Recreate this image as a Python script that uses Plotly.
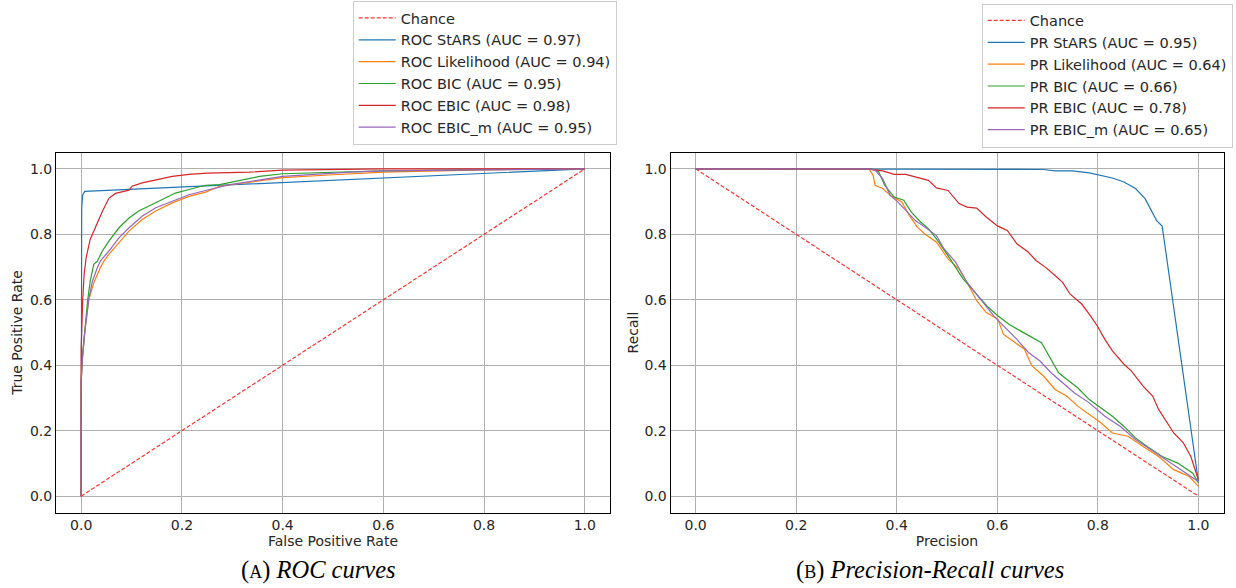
import plotly.graph_objects as go

# ---- ROC curves: (false positive rate, true positive rate) ----
chance_roc_x = [0.0, 1.0]
chance_roc_y = [0.0, 1.0]

roc_stars_fpr = [0.0, 0.0, 0.001, 0.003, 0.007, 1.0]
roc_stars_tpr = [0.0, 0.80, 0.88, 0.92, 0.931, 1.0]

roc_lik_fpr = [0.0, 0.0, 0.002, 0.007, 0.015, 0.025, 0.038, 0.045, 0.055, 0.075, 0.095, 0.121,
               0.148, 0.181, 0.214, 0.247, 0.275, 0.32, 0.40, 0.50, 0.60, 0.80, 1.0]
roc_lik_tpr = [0.0, 0.35, 0.41, 0.50, 0.60, 0.652, 0.698, 0.718, 0.739, 0.774, 0.810, 0.845,
               0.871, 0.896, 0.916, 0.929, 0.947, 0.956, 0.973, 0.982, 0.990, 0.997, 1.0]

roc_bic_fpr = [0.0, 0.0, 0.002, 0.007, 0.013, 0.018, 0.025, 0.032, 0.042, 0.055, 0.075, 0.095,
               0.114, 0.141, 0.167, 0.187, 0.214, 0.247, 0.275, 0.354, 0.40, 0.479, 0.60, 0.80, 1.0]
roc_bic_tpr = [0.0, 0.35, 0.42, 0.51, 0.60, 0.658, 0.708, 0.718, 0.749, 0.779, 0.820, 0.850,
               0.871, 0.891, 0.911, 0.926, 0.937, 0.950, 0.952, 0.977, 0.985, 0.989, 0.994, 0.998, 1.0]

roc_ebic_fpr = [0.0, 0.0, 0.003, 0.006, 0.010, 0.018, 0.028, 0.042, 0.055, 0.068, 0.095, 0.101,
                0.121, 0.154, 0.181, 0.214, 0.250, 0.334, 0.40, 0.60, 1.0]
roc_ebic_tpr = [0.0, 0.45, 0.60, 0.68, 0.73, 0.785, 0.820, 0.870, 0.910, 0.925, 0.935, 0.947,
                0.957, 0.967, 0.977, 0.983, 0.987, 0.990, 0.996, 1.0, 1.0]

roc_ebicm_fpr = [0.0, 0.0, 0.002, 0.007, 0.015, 0.022, 0.032, 0.038, 0.055, 0.075, 0.095, 0.121,
                 0.148, 0.181, 0.214, 0.247, 0.295, 0.40, 0.533, 0.60, 0.80, 1.0]
roc_ebicm_tpr = [0.0, 0.35, 0.41, 0.50, 0.60, 0.655, 0.698, 0.718, 0.749, 0.789, 0.820, 0.855,
                 0.881, 0.901, 0.921, 0.934, 0.952, 0.977, 0.990, 0.994, 0.998, 1.0]

# ---- Precision-Recall curves: (precision, recall) ----
chance_pr_x = [0.0, 1.0]
chance_pr_y = [1.0, 0.0]

pr_stars_p = [0.0, 0.35, 0.639, 0.692, 0.715, 0.75, 0.783, 0.806, 0.829, 0.852, 0.875, 0.894,
              0.906, 0.917, 0.928, 1.0]
pr_stars_r = [1.0, 1.0, 1.0, 0.998, 0.994, 0.994, 0.988, 0.980, 0.972, 0.960, 0.940, 0.909,
              0.873, 0.842, 0.825, 0.045]

pr_lik_p = [0.0, 0.345, 0.353, 0.357, 0.372, 0.387, 0.41, 0.425, 0.441, 0.456, 0.479, 0.502,
            0.524, 0.540, 0.559, 0.578, 0.601, 0.612, 0.631, 0.654, 0.669, 0.692, 0.715, 0.738,
            0.760, 0.783, 0.806, 0.829, 0.860, 0.890, 0.921, 0.951, 0.982, 1.0]
pr_lik_r = [1.0, 1.0, 0.980, 0.950, 0.940, 0.919, 0.899, 0.858, 0.822, 0.801, 0.776, 0.725,
            0.694, 0.653, 0.597, 0.561, 0.541, 0.495, 0.474, 0.449, 0.398, 0.367, 0.326, 0.306,
            0.275, 0.249, 0.224, 0.193, 0.183, 0.152, 0.121, 0.081, 0.060, 0.03]

pr_bic_p = [0.0, 0.35, 0.364, 0.376, 0.395, 0.414, 0.429, 0.448, 0.463, 0.479, 0.502, 0.517,
            0.532, 0.547, 0.562, 0.582, 0.601, 0.623, 0.646, 0.669, 0.688, 0.703, 0.722, 0.738,
            0.760, 0.783, 0.806, 0.829, 0.852, 0.875, 0.898, 0.928, 0.959, 0.989, 1.0]
pr_bic_r = [1.0, 1.0, 0.991, 0.950, 0.914, 0.904, 0.868, 0.837, 0.817, 0.786, 0.735, 0.699,
            0.664, 0.638, 0.612, 0.577, 0.551, 0.525, 0.505, 0.485, 0.469, 0.428, 0.377, 0.357,
            0.331, 0.295, 0.270, 0.244, 0.213, 0.178, 0.152, 0.121, 0.101, 0.070, 0.04]

pr_ebic_p = [0.0, 0.342, 0.372, 0.395, 0.418, 0.448, 0.463, 0.479, 0.502, 0.524, 0.540, 0.559,
             0.578, 0.601, 0.620, 0.639, 0.662, 0.677, 0.696, 0.715, 0.730, 0.745, 0.768, 0.783,
             0.799, 0.814, 0.829, 0.852, 0.867, 0.890, 0.909, 0.921, 0.936, 0.951, 0.970, 0.985, 1.0]
pr_ebic_r = [1.0, 1.0, 0.994, 0.983, 0.983, 0.972, 0.965, 0.942, 0.934, 0.894, 0.883, 0.880,
             0.853, 0.825, 0.812, 0.771, 0.745, 0.720, 0.699, 0.674, 0.653, 0.617, 0.587, 0.556,
             0.520, 0.479, 0.444, 0.403, 0.382, 0.336, 0.306, 0.265, 0.229, 0.193, 0.163, 0.121, 0.05]

pr_ebicm_p = [0.0, 0.345, 0.357, 0.372, 0.387, 0.402, 0.418, 0.437, 0.456, 0.479, 0.494, 0.517,
              0.540, 0.562, 0.593, 0.616, 0.639, 0.662, 0.685, 0.707, 0.730, 0.753, 0.783, 0.814,
              0.845, 0.875, 0.906, 0.936, 0.966, 1.0]
pr_ebicm_r = [1.0, 1.0, 0.996, 0.970, 0.919, 0.899, 0.873, 0.842, 0.822, 0.796, 0.756, 0.715,
              0.653, 0.612, 0.551, 0.515, 0.479, 0.439, 0.413, 0.377, 0.347, 0.316, 0.285, 0.244,
              0.213, 0.173, 0.142, 0.111, 0.080, 0.045]

tick_vals = [0.0, 0.2, 0.4, 0.6, 0.8, 1.0]

COLORS = {"StARS": "#1f77b4", "Likelihood": "#ff7f0e", "BIC": "#2ca02c",
          "EBIC": "#d62728", "EBIC_m": "#9467bd"}
CHANCE_COLOR = "rgba(255,0,0,0.8)"
TEXT_COLOR = "#262626"
SANS = "DejaVu Sans"

roc_series = [
    ("StARS", "0.97", roc_stars_fpr, roc_stars_tpr),
    ("Likelihood", "0.94", roc_lik_fpr, roc_lik_tpr),
    ("BIC", "0.95", roc_bic_fpr, roc_bic_tpr),
    ("EBIC", "0.98", roc_ebic_fpr, roc_ebic_tpr),
    ("EBIC_m", "0.95", roc_ebicm_fpr, roc_ebicm_tpr),
]
pr_series = [
    ("StARS", "0.95", pr_stars_p, pr_stars_r),
    ("Likelihood", "0.64", pr_lik_p, pr_lik_r),
    ("BIC", "0.66", pr_bic_p, pr_bic_r),
    ("EBIC", "0.78", pr_ebic_p, pr_ebic_r),
    ("EBIC_m", "0.65", pr_ebicm_p, pr_ebicm_r),
]

fig = go.Figure()

# left panel: ROC
fig.add_trace(go.Scatter(x=chance_roc_x, y=chance_roc_y, mode="lines", name="Chance",
                         line=dict(color=CHANCE_COLOR, width=1.2, dash="4px,2px"),
                         xaxis="x", yaxis="y", legend="legend"))
for name, auc, xs, ys in roc_series:
    fig.add_trace(go.Scatter(x=xs, y=ys, mode="lines", name=f"ROC {name} (AUC = {auc})",
                             line=dict(color=COLORS[name], width=1.2),
                             xaxis="x", yaxis="y", legend="legend"))

# right panel: Precision-Recall
fig.add_trace(go.Scatter(x=chance_pr_x, y=chance_pr_y, mode="lines", name="Chance",
                         line=dict(color=CHANCE_COLOR, width=1.2, dash="4px,2px"),
                         xaxis="x2", yaxis="y2", legend="legend2"))
for name, auc, xs, ys in pr_series:
    fig.add_trace(go.Scatter(x=xs, y=ys, mode="lines", name=f"PR {name} (AUC = {auc})",
                             line=dict(color=COLORS[name], width=1.2),
                             xaxis="x2", yaxis="y2", legend="legend2"))

W, H = 1236, 588


def axis_style(fontsize):
    return dict(range=[-0.05, 1.05], tickvals=tick_vals, tickformat=".1f",
                showgrid=True, gridcolor="#b0b0b0", gridwidth=1, zeroline=False,
                showline=True, linecolor="black", linewidth=1, mirror=True,
                ticks="",
                tickfont=dict(family=SANS, size=fontsize, color=TEXT_COLOR))


def title(text, standoff, size=14):
    return dict(text=text, standoff=standoff,
                font=dict(family=SANS, size=size, color=TEXT_COLOR))


ydom = [1 - 512.5 / H, 1 - 152.5 / H]

legend_common = dict(xanchor="left", yanchor="top", bgcolor="white",
                     bordercolor="#cccccc", borderwidth=1, itemwidth=37,
                     font=dict(family=SANS, size=14.5, color=TEXT_COLOR),
                     tracegroupgap=0)

fig.update_layout(
    width=W, height=H,
    margin=dict(l=0, r=0, t=0, b=0),
    paper_bgcolor="white", plot_bgcolor="white",
    showlegend=True,
    xaxis=dict(domain=[56 / W, 610 / W], anchor="y", title=title("False Positive Rate", 3),
               **axis_style(14)),
    yaxis=dict(domain=ydom, anchor="x", title=title("True Positive Rate", 4),
               **axis_style(14)),
    xaxis2=dict(domain=[670.5 / W, 1223.5 / W], anchor="y2", title=title("Precision", 3),
                **axis_style(14)),
    yaxis2=dict(domain=ydom, anchor="x2", title=title("Recall", 2),
                **axis_style(14)),
    legend=dict(x=352.7 / W, y=1 - 1.0 / H, **legend_common),
    legend2=dict(x=981.7 / W, y=1 - 3.5 / H, **legend_common),
    annotations=[
        dict(text="(<span style='font-size:18px'>A</span>) <i>ROC curves</i>",
             x=318 / W, y=1 - 570 / H, xref="paper", yref="paper",
             xanchor="center", yanchor="middle", showarrow=False,
             font=dict(family="Liberation Serif", size=24.5, color="black")),
        dict(text="(<span style='font-size:18px'>B</span>) <i>Precision-Recall curves</i>",
             x=930 / W, y=1 - 570 / H, xref="paper", yref="paper",
             xanchor="center", yanchor="middle", showarrow=False,
             font=dict(family="Liberation Serif", size=24.5, color="black")),
    ],
)

fig.write_html("out.html")
